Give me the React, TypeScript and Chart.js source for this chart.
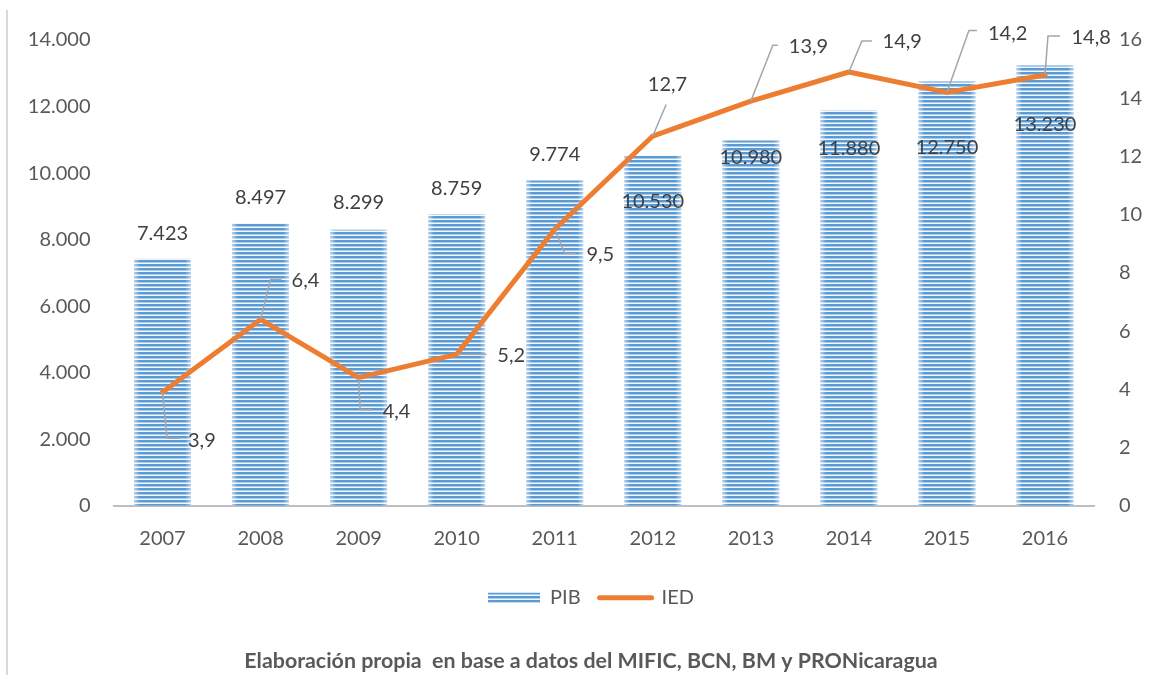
import React, { useEffect, useRef } from 'react';
import { Chart, registerables } from 'chart.js';

Chart.register(...registerables);

// ---------- data ----------
const years = ['2007', '2008', '2009', '2010', '2011', '2012', '2013', '2014', '2015', '2016'];
const pibValues = [7423, 8497, 8299, 8759, 9774, 10530, 10980, 11880, 12750, 13230];
const iedValues = [3.9, 6.4, 4.4, 5.2, 9.5, 12.7, 13.9, 14.9, 14.2, 14.8];
const leftAxisMax = 14000;
const leftAxisStep = 2000;
const rightAxisMax = 16;
const rightAxisStep = 2;
const seriesNames = ['PIB', 'IED'];
const footerText = 'Elaboración propia  en base a datos del MIFIC, BCN, BM y PRONicaragua';

// ---------- label placement (pixel offsets, styling only) ----------
const pibLabelDy = [-25, -26, -27, -26, -26, 46, 17, 38, 66, 59];
type IedLabel = { tx: number; ty: number; path: number[][] };
const iedLabelPlacement: IedLabel[] = [
  { tx: 25.5, ty: 48.5, path: [[0, 0], [4.5, 46], [17, 46]] },
  { tx: 31, ty: -39, path: [[0, 0], [10, -40], [21, -40]] },
  { tx: 24, ty: 34, path: [[0, 0], [1.5, 32], [13.5, 32]] },
  { tx: 40.6, ty: 1.5, path: [[0, 0], [30, 0]] },
  { tx: 31.7, ty: 25, path: [[0, 0], [10, 24.4], [21, 24.4]] },
  { tx: -5, ty: -52, path: [[0, 0], [13.4, -31.6]] },
  { tx: 38, ty: -55, path: [[0, 0], [22, -56], [27, -56]] },
  { tx: 33.7, ty: -30, path: [[0, 0], [13, -31], [23, -31]] },
  { tx: 41, ty: -59, path: [[0, 0], [22, -62], [30, -62]] },
  { tx: 26.5, ty: -37, path: [[0, 0], [3, -39], [15, -39]] },
];

const FONT = 'Lato, "Open Sans", sans-serif';
const ORANGE = '#ED7D31';
const BLUE = '#5B9BD5';
const TICK_COLOR = '#595959';
const LABEL_COLOR = '#404040';
const LEADER_COLOR = '#A6A6A6';

const CANVAS_W = 1182;
const CANVAS_H = 675;

const fmtThousands = (v: number) => String(Math.round(v)).replace(/\B(?=(\d{3})+(?!\d))/g, '.');
const fmtDecimal = (v: number) => v.toFixed(1).replace('.', ',');

export default function App() {
  const ref = useRef<HTMLCanvasElement>(null);

  useEffect(() => {
    const canvas = ref.current;
    if (!canvas) return;
    const ctx0 = canvas.getContext('2d')!;

    // striped pattern for the bars
    const pc = document.createElement('canvas');
    pc.width = 4;
    pc.height = 4;
    const p = pc.getContext('2d')!;
    p.fillStyle = '#F4F8FC';
    p.fillRect(0, 0, 4, 4);
    p.fillStyle = BLUE;
    p.fillRect(0, 0, 4, 2);
    p.fillStyle = '#A9CBEB';
    p.fillRect(0, 2, 4, 1);
    const pattern = ctx0.createPattern(pc, 'repeat')!;

    const labelPlugin = {
      id: 'customLabels',
      afterDatasetDraw(chart: any, args: any) {
        if (args.meta.type !== 'bar') return;
        const ctx = chart.ctx;
        ctx.save();
        args.meta.data.forEach((el: any) => {
          const { x, y, base, width } = el.getProps(['x', 'y', 'base', 'width'], true);
          const l = x - width / 2;
          const g = ctx.createLinearGradient(l, 0, l + width, 0);
          g.addColorStop(0, 'rgba(255,255,255,0.55)');
          g.addColorStop(0.1, 'rgba(255,255,255,0)');
          g.addColorStop(0.9, 'rgba(255,255,255,0)');
          g.addColorStop(1, 'rgba(255,255,255,0.55)');
          ctx.fillStyle = g;
          ctx.fillRect(l, y, width, base - y);
        });
        ctx.restore();
      },
      afterDatasetsDraw(chart: any) {
        const ctx = chart.ctx;
        const barMeta = chart.getDatasetMeta(1);
        const lineMeta = chart.getDatasetMeta(0);
        ctx.save();
        ctx.font = `20px ${FONT}`;
        ctx.fillStyle = LABEL_COLOR;
        ctx.textBaseline = 'middle';
        ctx.textAlign = 'center';
        barMeta.data.forEach((el: any, i: number) => {
          const { x, y } = el.getProps(['x', 'y'], true);
          ctx.fillText(fmtThousands(pibValues[i]), x, y + pibLabelDy[i]);
        });
        ctx.textAlign = 'left';
        ctx.strokeStyle = LEADER_COLOR;
        ctx.lineWidth = 1.5;
        lineMeta.data.forEach((pt: any, i: number) => {
          const { x, y } = pt.getProps(['x', 'y'], true);
          const pl = iedLabelPlacement[i];
          ctx.beginPath();
          pl.path.forEach(([dx, dy], k) => {
            if (k === 0) ctx.moveTo(x + dx, y + dy);
            else ctx.lineTo(x + dx, y + dy);
          });
          ctx.stroke();
          ctx.fillText(fmtDecimal(iedValues[i]), x + pl.tx, y + pl.ty);
        });
        ctx.restore();
      },
    };

    const chart = new Chart(canvas, {
      type: 'bar',
      data: {
        labels: years,
        datasets: [
          {
            type: 'line',
            label: seriesNames[1],
            data: iedValues,
            yAxisID: 'y1',
            borderColor: ORANGE,
            backgroundColor: ORANGE,
            borderWidth: 5,
            pointRadius: 0,
            tension: 0,
            borderJoinStyle: 'round',
            borderCapStyle: 'round',
          } as any,
          {
            type: 'bar',
            label: seriesNames[0],
            data: pibValues,
            yAxisID: 'y',
            backgroundColor: pattern as any,
            borderWidth: 0,
            categoryPercentage: 1,
            barPercentage: 0.58,
          } as any,
        ],
      },
      options: {
        responsive: false,
        animation: false,
        events: [],
        layout: { padding: { top: 40, left: 0, right: 0, bottom: 0 } },
        plugins: {
          tooltip: { enabled: false },
          legend: {
            position: 'bottom',
            labels: {
              usePointStyle: true,
              pointStyleWidth: 52,
              boxHeight: 10,
              padding: 19,
              color: TICK_COLOR,
              font: { family: FONT, size: 20 },
              generateLabels: () => [
                {
                  text: seriesNames[0],
                  fillStyle: pattern as any,
                  strokeStyle: 'rgba(0,0,0,0)',
                  lineWidth: 0,
                  pointStyle: 'rect',
                  datasetIndex: 1,
                  hidden: false,
                  fontColor: TICK_COLOR,
                } as any,
                {
                  text: seriesNames[1],
                  fillStyle: ORANGE,
                  strokeStyle: ORANGE,
                  lineWidth: 5,
                  lineCap: 'round',
                  pointStyle: 'line',
                  datasetIndex: 0,
                  hidden: false,
                  fontColor: TICK_COLOR,
                } as any,
              ],
            },
          },
          title: {
            display: true,
            position: 'bottom',
            text: footerText,
            color: TICK_COLOR,
            font: { family: FONT, size: 21.4, weight: 'bold' },
            padding: { top: 30.2, bottom: 1.4 },
          },
        },
        scales: {
          x: {
            grid: { display: false, drawTicks: false },
            border: { display: true, color: '#BFBFBF', width: 2 },
            ticks: { color: TICK_COLOR, font: { family: FONT, size: 20 }, padding: 21 },
            afterFit: (s: any) => {
              s.height = 63;
            },
          },
          y: {
            position: 'left',
            min: 0,
            max: leftAxisMax,
            grid: { display: false, drawTicks: false },
            border: { display: false },
            ticks: {
              stepSize: leftAxisStep,
              color: TICK_COLOR,
              font: { family: FONT, size: 20 },
              padding: 23,
              callback: (v: any) => fmtThousands(Number(v)),
            },
            afterFit: (s: any) => {
              s.width = 113.5;
            },
          },
          y1: {
            position: 'right',
            min: 0,
            max: rightAxisMax,
            grid: { display: false, drawTicks: false },
            border: { display: false },
            ticks: {
              stepSize: rightAxisStep,
              color: TICK_COLOR,
              font: { family: FONT, size: 20 },
              padding: 25,
            },
            afterFit: (s: any) => {
              s.width = 88;
            },
          },
        },
      } as any,
      plugins: [labelPlugin],
    });

    return () => chart.destroy();
  }, []);

  return (
    <div
      style={{
        position: 'fixed',
        left: 0,
        top: 0,
        width: 1149,
        height: 675,
        overflow: 'hidden',
        background: '#ffffff',
      }}
    >
      <canvas
        ref={ref}
        width={CANVAS_W}
        height={CANVAS_H}
        style={{ position: 'absolute', left: 0, top: 0 }}
      />
      <div style={{ position: 'absolute', left: 6, top: 10, width: 2, height: 665, background: '#D9D9D9' }} />
    </div>
  );
}
